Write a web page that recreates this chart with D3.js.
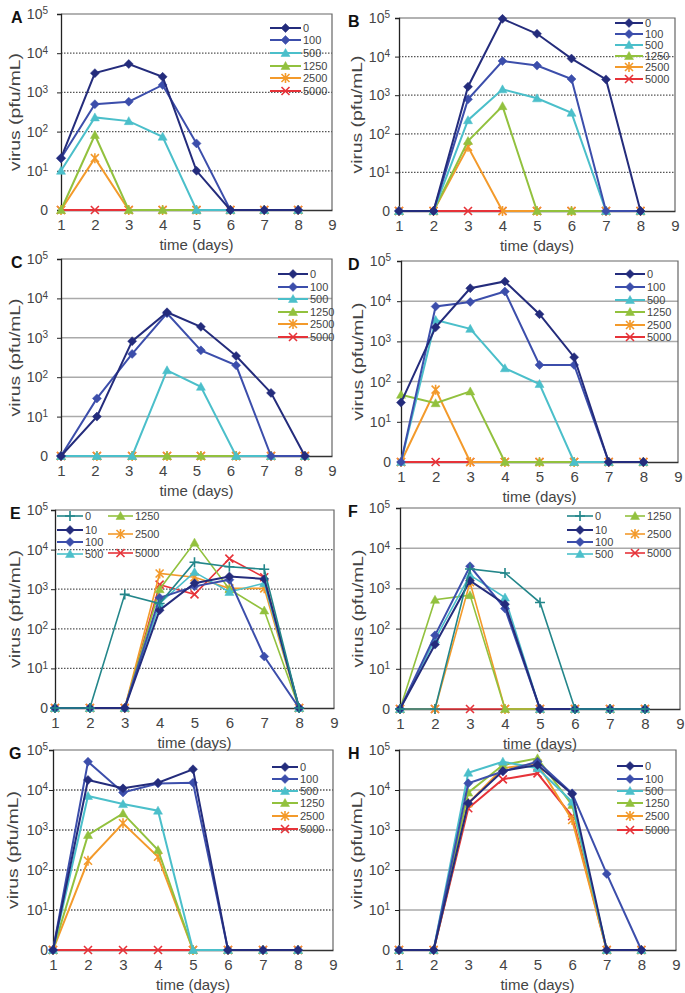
<!DOCTYPE html>
<html>
<head>
<meta charset="utf-8">
<script src="https://cdn.jsdelivr.net/npm/d3@7"></script>
<style>
body { margin: 0; background: #fff; }
text { font-family: "Liberation Sans", Arial, sans-serif; }
</style>
</head>
<body>
<svg id="chart" width="685" height="993"></svg>
<script>
// legend labels (drug dose)
var dosesMain = ["0", "100", "500", "1250", "2500", "5000"];
var dosesEF = ["0", "10", "100", "500", "1250", "2500", "5000"];

// sampling days
var days = [1, 2, 3, 4, 5, 6, 7, 8];
var daysC = [1, 2.06, 3.1, 4.13, 5.13, 6.17, 7.2, 8.2];
var xTicks = [1, 2, 3, 4, 5, 6, 7, 8, 9];
var yTicks = [1, 10, 100, 1000, 10000, 100000];

// virus titres (pfu/mL), one row per dose, 0 = none detected
var titreA = [
    [21, 3100, 5300, 2500, 10, 0, 0, 0],
    [21, 500, 580, 1550, 50, 0, 0, 0],
    [10, 230, 185, 74, 0, 0, 0, 0],
    [0, 82, 0, 0, 0, 0, 0, 0],
    [0, 21, 0, 0, 0, 0, 0, 0],
    [0, 0, 0, 0, 0, 0, 0, 0]
];
var titreB = [
    [0, 0, 1660, 95000, 39000, 8900, 2570, 0],
    [0, 0, 780, 7700, 5850, 2630, 0, 0],
    [0, 0, 225, 1420, 830, 350, 0, 0],
    [0, 0, 65, 520, 0, 0, 0, 0],
    [0, 0, 46, 0, 0, 0, 0, 0],
    [0, 0, 0, 0, 0, 0, 0, 0]
];
var titreC = [
    [0, 10, 820, 4450, 1900, 345, 40, 0],
    [0, 29, 390, 4200, 480, 200, 0, 0],
    [0, 0, 0, 150, 57, 0, 0, 0],
    [0, 0, 0, 0, 0, 0, 0, 0],
    [0, 0, 0, 0, 0, 0, 0, 0],
    [0, 0, 0, 0, 0, 0, 0, 0]
];
var titreD = [
    [30, 2240, 21000, 31000, 4750, 405, 0, 0],
    [0, 7400, 9600, 17400, 260, 260, 0, 0],
    [0, 3400, 2050, 215, 87, 0, 0, 0],
    [47, 29, 57, 0, 0, 0, 0, 0],
    [0, 63, 0, 0, 0, 0, 0, 0],
    [0, 0, 0, 0, 0, 0, 0, 0]
];
var titreE = [
    [0, 0, 740, 435, 4800, 3700, 3200, 0],
    [0, 0, 0, 295, 1420, 2100, 1820, 0],
    [0, 0, 0, 610, 1180, 1740, 20, 0],
    [0, 0, 0, 435, 2700, 850, 1420, 0],
    [0, 0, 0, 1000, 15000, 1000, 290, 0],
    [0, 0, 0, 2500, 2000, 1050, 1050, 0],
    [0, 0, 0, 1300, 740, 5900, 2000, 0]
];
var titreF = [
    [0, 0, 3050, 2420, 445, 0, 0, 0],
    [0, 40, 1550, 405, 0, 0, 0, 0],
    [0, 68, 3550, 315, 0, 0, 0, 0],
    [0, 54, 2150, 590, 0, 0, 0, 0],
    [0, 520, 680, 0, 0, 0, 0, 0],
    [0, 0, 1420, 0, 0, 0, 0, 0],
    [0, 0, 0, 0, 0, 0, 0, 0]
];
var titreG = [
    [0, 17800, 11000, 15200, 33000, 0, 0, 0],
    [0, 51000, 8700, 14600, 15200, 0, 0, 0],
    [0, 7100, 4450, 3040, 0, 0, 0, 0],
    [0, 750, 2600, 316, 0, 0, 0, 0],
    [0, 170, 1470, 215, 0, 0, 0, 0],
    [0, 0, 0, 0, 0, 0, 0, 0]
];
var titreH = [
    [0, 0, 4650, 30000, 42000, 7950, 0, 0],
    [0, 0, 14700, 29000, 51000, 8250, 80, 0],
    [0, 0, 27000, 51000, 35000, 5100, 0, 0],
    [0, 0, 8600, 42000, 62000, 4200, 0, 0],
    [0, 0, 4650, 35000, 46000, 1780, 0, 0],
    [0, 0, 3500, 18500, 26000, 2200, 0, 0]
];

// marker / colour per series
var styleMain = [
    {c: "#242c7c", m: "diamond", w: 2},
    {c: "#3c4eab", m: "diamond", w: 2},
    {c: "#4bbfca", m: "triangle", w: 2},
    {c: "#92c13e", m: "triangle", w: 2},
    {c: "#f39a2b", m: "star", w: 2},
    {c: "#e63339", m: "cross", w: 2}
];
var styleEF = [
    {c: "#23868a", m: "plus", w: 1.6},
    {c: "#242c7c", m: "diamond", w: 2},
    {c: "#3c4eab", m: "diamond", w: 2},
    {c: "#4bbfca", m: "triangle", w: 1.6},
    {c: "#92c13e", m: "triangle", w: 1.6},
    {c: "#f39a2b", m: "star", w: 1.6},
    {c: "#e63339", m: "cross", w: 1.6}
];

function oneCol(x1, x2, rows) {
    return rows.map(function (y) { return [x1, x2, y]; });
}
function twoCol(a1, a2, b1, b2, rowsA, rowsB) {
    return oneCol(a1, a2, rowsA).concat(oneCol(b1, b2, rowsB));
}

// tr = right edge of the y tick labels
var panels = [
    {id: "A", x0: 61, x1: 332, yb: 210, yt: 14, lx: 11, tr: 48, ylab: 15, t: days, data: titreA, doses: dosesMain, st: styleMain, grid: "dot",
        leg: oneCol(270, 301, [28, 40, 53, 66, 78, 91])},
    {id: "B", x0: 399, x1: 675, yb: 211, yt: 18, lx: 348, tr: 390, ylab: 357, t: days, data: titreB, doses: dosesMain, st: styleMain, grid: "dot",
        leg: oneCol(615, 643, [23, 34, 45, 56, 67, 79])},
    {id: "C", x0: 61, x1: 332, yb: 456, yt: 259, lx: 11, tr: 48, ylab: 15, t: daysC, data: titreC, doses: dosesMain, st: styleMain, grid: "solid",
        leg: oneCol(278, 308, [274, 287, 299, 312, 324, 337])},
    {id: "D", x0: 401, x1: 678, yb: 462, yt: 261, lx: 348, tr: 391, ylab: 358, t: days, data: titreD, doses: dosesMain, st: styleMain, grid: "solid",
        leg: oneCol(615, 645, [274, 287, 300, 312, 325, 337])},
    {id: "E", x0: 55, x1: 334, yb: 708, yt: 510, lx: 10, tr: 48, ylab: 15, t: days, data: titreE, doses: dosesEF, st: styleEF, grid: "dot",
        leg: twoCol(57, 83, 108, 133, [516, 530, 542, 554], [516, 534, 553])},
    {id: "F", x0: 400, x1: 680, yb: 709, yt: 508, lx: 348, tr: 390, ylab: 358, t: days, data: titreF, doses: dosesEF, st: styleEF, grid: "solid",
        leg: twoCol(567, 593, 625, 645, [516, 530, 542, 554], [516, 534, 553])},
    {id: "G", x0: 53, x1: 333, yb: 950, yt: 750, lx: 9, tr: 48, ylab: 13, t: days, data: titreG, doses: dosesMain, st: styleMain, grid: "dot",
        leg: oneCol(272, 298, [767, 779, 791, 803, 816, 829])},
    {id: "H", x0: 399, x1: 676, yb: 950, yt: 750, lx: 348, tr: 390, ylab: 357, t: days, data: titreH, doses: dosesMain, st: styleMain, grid: "solid",
        leg: oneCol(617, 643, [766, 779, 791, 803, 816, 830])}
];

var svg = d3.select("#chart");

function markerPath(m) {
    if (m === "diamond") return "M0,-4.5L4.5,0L0,4.5L-4.5,0Z";
    if (m === "triangle") return "M0,-4.5L4.5,3.5L-4.5,3.5Z";
    if (m === "star") return "M-4,-4L4,4M-4,4L4,-4M0,-5L0,5";
    if (m === "cross") return "M-4,-4L4,4M-4,4L4,-4";
    return "M-5,0L5,0M0,-5L0,5";
}
function drawMarker(g, s, x, y) {
    var filled = s.m === "diamond" || s.m === "triangle";
    g.append("path")
        .attr("transform", "translate(" + x + "," + y + ")")
        .attr("d", markerPath(s.m))
        .attr("fill", filled ? s.c : "none")
        .attr("stroke", s.c)
        .attr("stroke-width", filled ? 0.5 : 1.6);
}

panels.forEach(function (p) {
    var g = svg.append("g");
    var x = d3.scaleLinear().domain([1, 9]).range([p.x0, p.x1]);
    var y = d3.scaleLog().domain([1, 1e5]).range([p.yb, p.yt]);

    // gridlines
    g.selectAll(".grid")
        .data([10, 100, 1000, 10000])
        .enter().append("line")
        .attr("x1", p.x0).attr("x2", p.x1)
        .attr("y1", function (d) { return y(d); })
        .attr("y2", function (d) { return y(d); })
        .attr("stroke", p.grid === "dot" ? "#555" : "#aaa")
        .attr("stroke-width", p.grid === "dot" ? 1.3 : 1.5)
        .attr("stroke-dasharray", p.grid === "dot" ? "1.5,1.5" : null);

    // frame top / right
    g.append("path")
        .attr("d", "M" + p.x0 + "," + y(1e5) + "H" + p.x1 + "V" + p.yb)
        .attr("fill", "none")
        .attr("stroke", "#666")
        .attr("stroke-width", 1.2);

    // x axis
    var xa = g.append("g")
        .attr("transform", "translate(0," + p.yb + ")")
        .call(d3.axisBottom(x).tickValues(xTicks).tickSize(0).tickPadding(9).tickFormat(d3.format("d")));
    xa.select(".domain").attr("stroke", "#333").attr("stroke-width", 1.3);
    xa.selectAll("text").attr("font-size", 15).attr("fill", "#444")
        .attr("font-family", "Liberation Sans, Arial, sans-serif");

    // y axis
    var ya = g.append("g")
        .attr("transform", "translate(" + p.x0 + ",0)")
        .call(d3.axisLeft(y).tickValues(yTicks).tickSize(4).tickFormat(""));
    ya.select(".domain").attr("stroke", "#222").attr("stroke-width", 1.3);
    ya.selectAll("line").attr("stroke", "#222");
    ya.selectAll(".tick text")
        .attr("x", p.tr - p.x0)
        .attr("font-size", 14).attr("fill", "#444")
        .attr("font-family", "Liberation Sans, Arial, sans-serif")
        .each(function (d) {
            var t = d3.select(this);
            if (d === 1) { t.text("0"); return; }
            t.text("10");
            t.append("tspan").attr("dy", "-0.45em").attr("font-size", 10).text(Math.round(Math.log10(d)));
        });

    // axis titles
    g.append("text")
        .attr("x", (p.x0 + p.x1) / 2)
        .attr("y", p.yb + 40)
        .attr("text-anchor", "middle")
        .attr("font-size", 15).attr("fill", "#444")
        .text("time (days)");
    g.append("text")
        .attr("transform", "translate(" + (p.ylab + 5) + "," + ((p.yb + p.yt) / 2) + ") rotate(-90)")
        .attr("text-anchor", "middle")
        .attr("font-size", 15).attr("fill", "#444")
        .attr("textLength", 118).attr("lengthAdjust", "spacingAndGlyphs")
        .text("virus (pfu/mL)");

    // panel letter
    g.append("text")
        .attr("x", p.lx).attr("y", p.yt + 9)
        .attr("font-size", 16).attr("font-weight", "bold").attr("fill", "#111")
        .text(p.id);

    // series, last dose drawn first
    var line = d3.line()
        .x(function (d, i) { return x(p.t[i]); })
        .y(function (d) { return y(Math.max(d, 1)); });
    for (var k = p.data.length - 1; k >= 0; k--) {
        var s = p.st[k];
        var sg = g.append("g");
        sg.append("path")
            .datum(p.data[k])
            .attr("d", line)
            .attr("fill", "none")
            .attr("stroke", s.c)
            .attr("stroke-width", s.w);
        p.data[k].forEach(function (v, i) {
            drawMarker(sg, s, x(p.t[i]), y(Math.max(v, 1)));
        });
    }

    // legend
    p.leg.forEach(function (L, i) {
        var s = p.st[i];
        g.append("line")
            .attr("x1", L[0]).attr("x2", L[1])
            .attr("y1", L[2]).attr("y2", L[2])
            .attr("stroke", s.c).attr("stroke-width", s.w);
        drawMarker(g, s, (L[0] + L[1]) / 2, L[2]);
        g.append("text")
            .attr("x", L[1] + 2).attr("y", L[2] + 4)
            .attr("font-size", 11).attr("fill", "#444")
            .text(p.doses[i]);
    });
});
</script>
</body>
</html>
